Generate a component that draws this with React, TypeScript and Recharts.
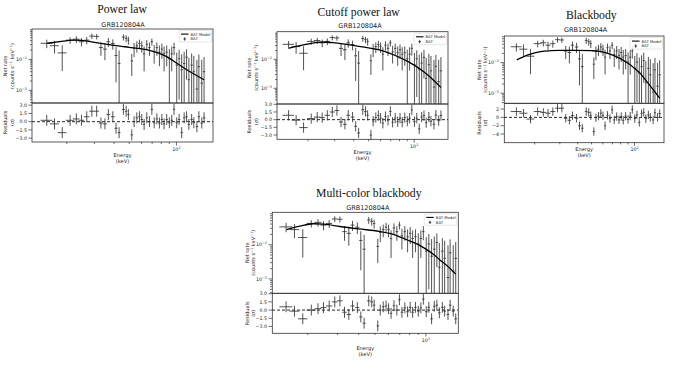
import React from "react";
import { ComposedChart, Scatter, Line, XAxis, YAxis, ErrorBar, ReferenceLine } from "recharts";

// GRB120804A BAT spectrum: the same channels are fitted in all four panels
const energy = [14.9, 16.7, 18.7, 21.0, 23.0, 24.8, 26.8, 28.9, 31.0, 33.0, 35.0, 36.8, 39.3, 41.2, 43.1, 45.9, 47.8, 49.4, 51.9, 53.7, 55.9, 58.1, 60.1, 62.2, 64.7, 67.3, 69.7, 72.1, 75.0, 77.9, 80.7, 83.4, 86.7, 90.1, 93.3, 96.5, 100.4, 104, 108, 112, 116, 120, 125, 129, 135, 139, 145, 150];
const energyHalfWidth = [1.3, 1.1, 1.2, 1.3, 1.1, 1.0, 1.1, 1.1, 1.1, 1.0, 1.0, 1.0, 1.1, 0.9, 0.9, 1.0, 0.9, 0.8, 0.9, 0.9, 1.0, 1.0, 1.0, 1.0, 1.1, 1.2, 1.2, 1.2, 1.3, 1.3, 1.3, 1.4, 1.5, 1.5, 1.5, 1.6, 1.8, 1.8, 1.9, 1.9, 2.0, 2.0, 2.2, 2.2, 2.5, 2.5, 2.8, 2.8];
const netRate = [0.033, 0.0275, 0.0162, 0.0417, 0.0447, 0.0372, 0.0417, 0.0562, 0.055, 0.024, 0.0214, 0.0372, 0.0324, 0.0133, 0.0074, 0.0525, 0.0479, 0.0417, 0.0089, 0.0229, 0.0275, 0.0324, 0.0275, 0.0151, 0.0309, 0.024, 0.0372, 0.0182, 0.024, 0.017, 0.0214, 0.0151, 0.017, 0.0105, 0.0151, 0.024, 0.0065, 0.0105, 0.0046, 0.0074, 0.0117, 0.0022, 0.0065, 0.004, 0.0011, 0.0058, 0.0017, 0.004];
const netRateErr = [0.01, 0.012, 0.012, 0.01, 0.011, 0.011, 0.011, 0.011, 0.011, 0.011, 0.012, 0.012, 0.012, 0.0115, 0.012, 0.012, 0.012, 0.012, 0.006, 0.011, 0.011, 0.011, 0.011, 0.011, 0.011, 0.011, 0.0095, 0.011, 0.011, 0.011, 0.011, 0.011, 0.011, 0.011, 0.011, 0.0105, 0.01, 0.01, 0.01, 0.01, 0.0095, 0.009, 0.009, 0.009, 0.0085, 0.0085, 0.008, 0.008];

// folded model curves
const plModelE = [15, 18, 22, 25, 30, 40, 50, 60, 70, 80, 90, 100, 115, 130, 150];
const plModel = [0.0331, 0.0372, 0.0417, 0.0407, 0.0355, 0.0282, 0.0245, 0.0219, 0.0186, 0.0148, 0.011, 0.00759, 0.00479, 0.00331, 0.00219];
const cplModelE = [15, 18, 22, 25, 30, 40, 50, 60, 70, 80, 90, 100, 115, 130, 150];
const cplModel = [0.0245, 0.0302, 0.0372, 0.0398, 0.0372, 0.0302, 0.0251, 0.0209, 0.0158, 0.0117, 0.00871, 0.00631, 0.0038, 0.00224, 0.00107];
const bbModelE = [15, 18, 22, 26, 30, 40, 50, 57, 65, 79, 90, 100, 110, 122, 135, 150];
const bbModel = [0.0123, 0.0178, 0.0229, 0.0245, 0.0251, 0.0251, 0.0245, 0.0234, 0.02, 0.0138, 0.00955, 0.00661, 0.00437, 0.0024, 0.00132, 0.000692];
const mcbbModelE = [15, 18, 21.5, 25, 31, 40, 53, 62, 70, 80, 90, 100, 110, 120, 135, 150];
const mcbbModel = [0.0275, 0.0347, 0.0407, 0.0398, 0.0339, 0.0288, 0.0245, 0.0209, 0.017, 0.0129, 0.01, 0.00741, 0.00537, 0.00372, 0.00229, 0.00138];

// residuals in sigma
const plResid = [0.25, -0.4, -2.0, 0.25, 0.5, 0.25, 0.9, 1.9, 1.9, -0.25, -0.4, 1.3, 0.9, -1.2, -2.0, 2.25, 1.9, 1.3, -2.4, 0, 0.7, 0.9, 0.4, -0.5, 0.7, 0, 2.25, -0.2, 0.5, -0.25, 0.4, -0.4, 0.4, -0.2, 0.25, 2.25, -0.2, 0.4, -2.0, 0.7, 0.9, -0.5, 0.4, -0.2, -0.9, 0.9, -0.25, 0.7];
const cplResid = [0.85, -0.1, -1.55, 0.2, 0.5, 0.4, 0.85, 1.5, 1.8, -0.45, -0.9, 0.85, 0.5, -1.3, -2.6, 1.95, 1.6, 0.85, -3.0, -0.3, 0.4, 0.8, 0.3, -0.7, 0.6, -0.1, 1.6, -0.5, 0.3, -0.4, 0.3, -0.5, 0.4, -0.3, 0.3, 1.9, -0.4, 0.3, -1.8, 0.5, 0.8, -0.6, 0.5, -0.3, -0.9, 0.9, -0.2, 0.8];
const bbResid = [1.4, 1.0, -0.4, 1.4, 1.2, 1.0, 1.4, 2.2, 2.2, -0.2, -0.7, 0.4, -0.2, -2.0, -2.6, 1.4, 1.2, 0.4, -3.4, -0.1, 0.3, 1.0, 0.4, -2.0, 0.5, -0.3, 1.8, -0.6, 0.2, -0.6, 0.2, -0.7, 0.3, -0.5, 0.3, 1.9, -0.3, 0.6, -1.2, 0.9, 1.2, -0.3, 0.6, 0.0, -0.6, 1.1, 0.0, 0.9];
const mcbbResid = [0.6, -0.2, -1.6, 0.0, 0.25, 0.45, 0.75, 1.5, 1.7, -0.4, -0.8, 0.75, 0.45, -1.25, -2.4, 1.7, 1.5, 0.9, -2.9, 0.0, 0.6, 0.75, 0.25, -0.6, 0.8, 0.0, 1.9, -0.4, 0.4, -0.3, 0.5, -0.4, 0.5, -0.2, 0.4, 2.0, -0.3, 0.5, -1.6, 0.7, 0.9, -0.5, 0.5, -0.2, -0.8, 0.9, -0.2, -1.6];
const residSigma = 1;

// axis ticks
const rateTicks = [4e-4, 5e-4, 6e-4, 7e-4, 8e-4, 9e-4, 1e-3, 2e-3, 3e-3, 4e-3, 5e-3, 6e-3, 7e-3, 8e-3, 9e-3, 1e-2, 2e-2, 3e-2, 4e-2, 5e-2, 6e-2, 7e-2, 8e-2, 9e-2];
const energyTicks = [20, 30, 40, 50, 60, 70, 80, 90, 100];
const sigmaTicks15 = [3, 1.5, 0, -1.5, -3];
const sigmaTicks2 = [2, 0, -2, -4];

const AXW = 30;
const XAXH = 12;
const PAD = 4;
const FONT = "DejaVu Sans, sans-serif";
const INK = "#222";

type Panel = {
  title: string; titleX: number; titleY: number; subX: number; subY: number;
  left: number; top: number; width: number; topH: number; resH: number;
  xDomain: [number, number]; yDomain: [number, number];
  resDomain: [number, number]; resTicks: number[]; digits: number;
  ylabX: number; ylab2X: number; xlabY: number;
  modelE: number[]; model: number[]; resid: number[];
};

const panels: Panel[] = [
  { title: "Power law", titleX: 122, titleY: 13.3, subX: 123, subY: 26.5, left: 32, top: 29, width: 181, topH: 74, resH: 39, xDomain: [12.0, 171], yDomain: [3.9e-4, 0.0955], resDomain: [-3.7, 3.4], resTicks: sigmaTicks15, digits: 1, ylabX: 5, ylab2X: 11.7, xlabY: 156.5, modelE: plModelE, model: plModel, resid: plResid },
  { title: "Cutoff power law", titleX: 358.7, titleY: 16, subX: 360, subY: 28.3, left: 277, top: 31.7, width: 171, topH: 72.3, resH: 35.3, xDomain: [12.5, 167], yDomain: [2.8e-4, 0.088], resDomain: [-3.84, 3.06], resTicks: sigmaTicks15, digits: 1, ylabX: 249.3, ylab2X: 256, xlabY: 154.3, modelE: cplModelE, model: cplModel, resid: cplResid },
  { title: "Blackbody", titleX: 591.3, titleY: 19.3, subX: 585.7, subY: 32.3, left: 504.3, top: 36, width: 159.7, topH: 67.3, resH: 39.4, xDomain: [12.2, 160], yDomain: [4.7e-4, 0.0741], resDomain: [-6.0, 3.45], resTicks: sigmaTicks2, digits: 0, ylabX: 479, ylab2X: 485.5, xlabY: 151, modelE: bbModelE, model: bbModel, resid: bbResid },
  { title: "Multi-color blackbody", titleX: 368.8, titleY: 197.3, subX: 367.8, subY: 209.7, left: 272.3, top: 212.3, width: 186, topH: 81, resH: 40, xDomain: [12.3, 154.7], yDomain: [3.9e-4, 0.0897], resDomain: [-4.2, 3.13], resTicks: sigmaTicks15, digits: 1, ylabX: 246.7, ylab2X: 253.3, xlabY: 350.3, modelE: mcbbModelE, model: mcbbModel, resid: mcbbResid },
];

const noMark = () => <g />;
const isDecade = (v: number) => Math.abs(Math.log10(v) - Math.round(Math.log10(v))) < 1e-6;
const minus = (s: string) => s.replace("-", "\u2212");

function RateTick(props: any) {
  const { x, y, payload } = props;
  const v = payload.value;
  const major = isDecade(v);
  return (
    <g>
      <line x1={x} x2={x - (major ? 3.5 : 2)} y1={y} y2={y} stroke="#333" strokeWidth={0.7} />
      {major && (
        <text x={x - 5} y={y + 1.7} textAnchor="end" fontSize={4.8} fontFamily={FONT} fill={INK}>
          10<tspan dy={-2.1} fontSize={3.4}>{"\u2212" + -Math.round(Math.log10(v))}</tspan>
        </text>
      )}
    </g>
  );
}

function SigmaTick(props: any) {
  const { x, y, payload, digits } = props;
  return (
    <g>
      <line x1={x} x2={x - 3.5} y1={y} y2={y} stroke="#333" strokeWidth={0.7} />
      <text x={x - 5} y={y + 1.7} textAnchor="end" fontSize={4.7} fontFamily={FONT} fill={INK}>
        {minus(Number(payload.value).toFixed(digits))}
      </text>
    </g>
  );
}

function EnergyTick(props: any) {
  const { x, y, payload } = props;
  const major = isDecade(payload.value);
  return (
    <g>
      <line x1={x} x2={x} y1={y} y2={y + (major ? 3.5 : 2)} stroke="#333" strokeWidth={0.7} />
      {major && (
        <text x={x} y={y + 9} textAnchor="middle" fontSize={4.8} fontFamily={FONT} fill={INK}>
          10<tspan dy={-2.1} fontSize={3.4}>2</tspan>
        </text>
      )}
    </g>
  );
}

function SpectrumPanel({ p }: { p: Panel }) {
  const floor = p.yDomain[0] * 0.5;
  const spectrum = energy.map((e, i) => ({
    e,
    r: netRate[i],
    ex: energyHalfWidth[i],
    ey: [Math.min(netRateErr[i], netRate[i] - floor), netRateErr[i]],
  }));
  const modelRows = p.modelE.map((e, i) => ({ e, m: p.model[i] }));
  const residRows = energy.map((e, i) => ({ e, d: p.resid[i], ex: energyHalfWidth[i], ey: residSigma }));
  const yTicks = rateTicks.filter((t) => t >= p.yDomain[0] && t <= p.yDomain[1]);
  const xTicks = energyTicks.filter((t) => t >= p.xDomain[0] && t <= p.xDomain[1]);
  const bar = { stroke: "#333", strokeWidth: 0.85, width: 0 };

  return (
    <>
      <div style={{ position: "absolute", left: p.left - AXW, top: p.top - PAD }}>
        <ComposedChart width={p.width + AXW} height={p.topH + PAD} margin={{ top: PAD, right: 0, bottom: 0, left: 0 }}>
          <XAxis dataKey="e" type="number" scale="log" domain={p.xDomain} allowDataOverflow hide />
          <YAxis type="number" scale="log" domain={p.yDomain} allowDataOverflow width={AXW} ticks={yTicks} interval={0}
            tick={<RateTick />} tickLine={false} axisLine={false} tickSize={0} tickMargin={0} />
          <Scatter data={spectrum} dataKey="r" shape={noMark} isAnimationActive={false}>
            <ErrorBar dataKey="ex" direction="x" {...bar} />
            <ErrorBar dataKey="ey" direction="y" {...bar} />
          </Scatter>
          <Line data={modelRows} dataKey="m" type="monotone" dot={false} stroke="#000" strokeWidth={1.3} isAnimationActive={false} />
        </ComposedChart>
      </div>
      <div style={{ position: "absolute", left: p.left - AXW, top: p.top + p.topH - PAD }}>
        <ComposedChart width={p.width + AXW} height={p.resH + XAXH + PAD} margin={{ top: PAD, right: 0, bottom: 0, left: 0 }}>
          <XAxis dataKey="e" type="number" scale="log" domain={p.xDomain} allowDataOverflow height={XAXH} ticks={xTicks} interval={0}
            tick={<EnergyTick />} tickLine={false} axisLine={false} tickSize={0} tickMargin={0} />
          <YAxis type="number" domain={p.resDomain} allowDataOverflow width={AXW} ticks={p.resTicks} interval={0}
            tick={(t: any) => <SigmaTick {...t} digits={p.digits} />} tickLine={false} axisLine={false} tickSize={0} tickMargin={0} />
          <ReferenceLine y={0} stroke="#111" strokeWidth={0.9} strokeDasharray="3 2" />
          <Scatter data={residRows} dataKey="d" shape={noMark} isAnimationActive={false}>
            <ErrorBar dataKey="ex" direction="x" {...bar} />
            <ErrorBar dataKey="ey" direction="y" {...bar} />
          </Scatter>
        </ComposedChart>
      </div>
    </>
  );
}

function PanelText({ p }: { p: Panel }) {
  const cx = p.left + p.width / 2;
  const right = p.left + p.width;
  const bx = right - 34;
  const by = p.top + 1.5;
  const topMid = p.top + p.topH / 2;
  const resMid = p.top + p.topH + p.resH / 2;
  const small = { fontFamily: FONT, fill: INK };
  return (
    <g>
      <text x={p.titleX} y={p.titleY} textAnchor="middle" fontSize={11.7} fontFamily="Liberation Serif, Times New Roman, serif" fill="#111">{p.title}</text>
      <text x={p.subX} y={p.subY} textAnchor="middle" fontSize={6.5} {...small}>GRB120804A</text>
      <rect x={p.left} y={p.top} width={p.width} height={p.topH} fill="none" stroke="#333" strokeWidth={0.8} />
      <rect x={p.left} y={p.top + p.topH} width={p.width} height={p.resH} fill="none" stroke="#333" strokeWidth={0.8} />
      <text transform={`translate(${p.ylabX + 1.8},${topMid}) rotate(-90)`} textAnchor="middle" fontSize={5} {...small}>Net rate</text>
      <text transform={`translate(${p.ylab2X + 1.8},${topMid}) rotate(-90)`} textAnchor="middle" fontSize={5} {...small}>
        (counts s<tspan dy={-1.8} fontSize={3.5}>{"\u22121"}</tspan><tspan dy={1.8}> keV</tspan><tspan dy={-1.8} fontSize={3.5}>{"\u22121"}</tspan><tspan dy={1.8}>)</tspan>
      </text>
      <text transform={`translate(${p.ylabX + 1.8},${resMid}) rotate(-90)`} textAnchor="middle" fontSize={5} {...small}>Residuals</text>
      <text transform={`translate(${p.ylab2X + 1.8},${resMid}) rotate(-90)`} textAnchor="middle" fontSize={5} {...small}>
        (<tspan fontStyle="italic">σ</tspan>)
      </text>
      <text x={cx} y={p.xlabY} textAnchor="middle" fontSize={5.1} {...small}>Energy</text>
      <text x={cx} y={p.xlabY + 6} textAnchor="middle" fontSize={5.1} {...small}>(keV)</text>
      <rect x={bx} y={by} width={32.5} height={11.5} rx={1} fill="#fff" fillOpacity={0.85} stroke="#cfcfcf" strokeWidth={0.5} />
      <line x1={bx + 2} x2={bx + 9.5} y1={by + 3.6} y2={by + 3.6} stroke="#000" strokeWidth={1.1} />
      <text x={bx + 11.5} y={by + 5} fontSize={3.8} {...small}>BAT Model</text>
      <line x1={bx + 5.7} x2={bx + 5.7} y1={by + 6.8} y2={by + 10.2} stroke="#000" strokeWidth={0.7} />
      <line x1={bx + 4.4} x2={bx + 7} y1={by + 8.5} y2={by + 8.5} stroke="#000" strokeWidth={0.7} />
      <text x={bx + 11.5} y={by + 9.9} fontSize={3.8} {...small}>BAT</text>
    </g>
  );
}

export default function App() {
  return (
    <div style={{ position: "absolute", left: 0, top: 0, width: 673, height: 366, background: "#fff", overflow: "hidden" }}>
      {panels.map((p) => (
        <SpectrumPanel key={p.title} p={p} />
      ))}
      <svg width={673} height={366} style={{ position: "absolute", left: 0, top: 0, pointerEvents: "none" }}>
        {panels.map((p) => (
          <PanelText key={p.title} p={p} />
        ))}
      </svg>
    </div>
  );
}
